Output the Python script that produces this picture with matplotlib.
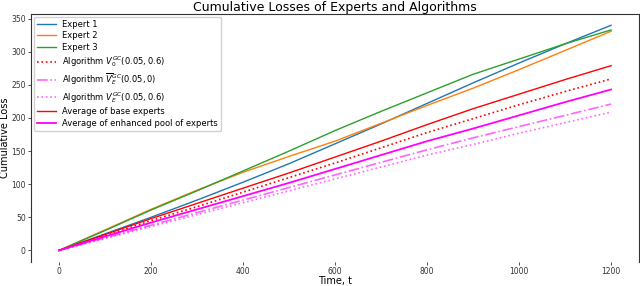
import numpy as np
import matplotlib.pyplot as plt

t = [0, 100, 200, 300, 400, 500, 600, 700, 800, 900, 1000, 1100, 1200]

expert1 = [0, 25, 50, 76, 103, 131, 161, 191, 222, 253, 283, 312, 340]
expert2 = [0, 31, 62, 91, 118, 142, 165, 192, 219, 245, 273, 302, 331]
expert3 = [0, 30, 61, 90, 120, 150, 181, 210, 238, 266, 289, 312, 333]
algo_v0 = [0, 22, 45, 66, 88, 110, 132, 155, 178, 199, 220, 240, 259]
algo_vbar = [0, 19, 38, 57, 76, 95, 114, 133, 152, 170, 187, 204, 221]
algo_v1 = [0, 18, 36, 54, 72, 90, 108, 126, 144, 160, 177, 193, 209]
avg_base = [0, 24, 48, 71, 94, 117, 141, 165, 190, 214, 236, 258, 279]
avg_enhanced = [0, 21, 42, 62, 82, 102, 123, 144, 165, 184, 204, 224, 243]

fig = plt.figure(figsize=(6.4, 2.86), dpi=100)
ax = fig.add_axes([0.049, 0.085, 0.949, 0.866])

ax.plot(t, expert1, color='C0', lw=1, label='Expert 1')
ax.plot(t, expert2, color='C1', lw=1, label='Expert 2')
ax.plot(t, expert3, color='C2', lw=1, label='Expert 3')
ax.plot(t, algo_v0, color='red', ls=':', lw=1.2, label=r'Algorithm $V_0^{GC}(0.05, 0.6)$')
ax.plot(t, algo_vbar, color='magenta', alpha=0.6, ls='-.', lw=1.2,
        label=r'Algorithm $\overline{V}_{E}^{GC}(0.05, 0)$')
ax.plot(t, algo_v1, color='magenta', alpha=0.6, ls=':', lw=1.2,
        label=r'Algorithm $V_{E}^{GC}(0.05, 0.6)$')
ax.plot(t, avg_base, color='red', lw=1, label='Average of base experts')
ax.plot(t, avg_enhanced, color='magenta', lw=1.3, label='Average of enhanced pool of experts')

ax.set_xlim(-60, 1260)
ax.set_ylim(-17, 357)
ax.set_xticks([0, 200, 400, 600, 800, 1000, 1200])
ax.set_yticks([0, 50, 100, 150, 200, 250, 300, 350])
ax.tick_params(labelsize=5.5, colors='#333333', length=2, width=0.6, pad=2)
ax.spines['bottom'].set_visible(False)
for s in ['left', 'right', 'top']:
    ax.spines[s].set_color('#333333')
    ax.spines[s].set_linewidth(0.8)

ax.set_title('Cumulative Losses of Experts and Algorithms', fontsize=9, pad=2)
ax.set_xlabel('Time, t', fontsize=7, labelpad=-0.5)
ax.set_ylabel('Cumulative Loss', fontsize=7, labelpad=1)
ax.legend(loc='upper left', fontsize=6, handlelength=2.2, labelspacing=0.3,
          borderaxespad=0.3, framealpha=0.9)

fig.savefig('out.png', dpi=100)
